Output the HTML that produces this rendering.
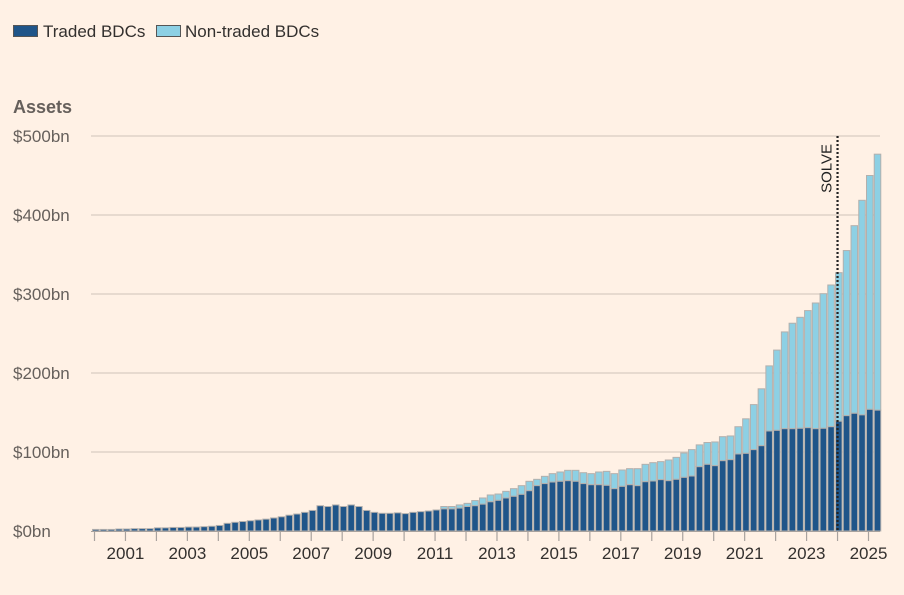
<!DOCTYPE html>
<html><head><meta charset="utf-8"><style>
html,body{margin:0;padding:0;background:#fff1e5;}
body{width:904px;height:590px;overflow:hidden;font-family:"Liberation Sans",sans-serif;}
svg text{font-family:"Liberation Sans",sans-serif;}
</style></head><body>
<svg id="chart" width="904" height="590" xmlns="http://www.w3.org/2000/svg">
<g>
<rect x="13.5" y="25.5" width="24" height="11" fill="#1f5589" stroke="#555" stroke-width="1"/>
<text x="43" y="37" font-size="17" fill="#33302e">Traded BDCs</text>
<rect x="156.5" y="25.5" width="24" height="11" fill="#8dd0e4" stroke="#555" stroke-width="1"/>
<text x="185" y="37" font-size="17" fill="#33302e">Non-traded BDCs</text>
</g>
<text x="13" y="113" font-size="18" font-weight="bold" fill="#66605c">Assets</text>
<g id="grid"></g><g id="bars"></g><g id="xaxis"></g>
</svg>
<script>
const traded = [2,2,2,2.5,2.5,3,3,3,4,4,4.5,4.5,5,5,5.5,6,
7,9.7,11,12,13,14,15,16.5,18,20,21.5,23.6,26,32,31,33,31,33,31,26,23.6,22.4,22.4,23,22,23.6,24.5,25.3,26.6,28,28,29,31,32,
34,37,38.8,41.8,43.9,46.4,51,57.4,60,62,62.9,63.7,62.9,60,58.6,58.6,57.8,53.6,56.5,58.6,57.4,62.4,63.3,65,63.7,65.4,67.9,69.6,81.4,84.4,82.7,89,90.3,97.5,98.3,103,108,126.6,127.4,129.5,129.5,130,130.8,129.5,130,132,139,146,149,147,154,153];
const totals = [2,2,2,2.5,2.5,3,3,3,4,4,4.5,4.5,5,5,5.5,6,
7,9.7,11,12,13,14,15,16.5,18,20,21.5,23.6,26,32,31,33,31,33,31,26,23.6,22.4,22.4,23,22,23.6,24.5,25.3,26.6,31,31,33,35,38.5,
41.8,45.6,46.8,50.2,53.6,57.4,62.9,65.4,69.2,72.6,74.7,76.8,76.8,73.8,72.6,74.7,75.5,72.6,77.2,78.9,78.9,84.4,86.5,87.8,89.9,93.2,98.7,103,109,112,112.7,119.4,120.3,132,142,160,180,209,229,252,263,270.5,279,288.6,300.4,311.4,327,355,386.5,418.6,450,477];
const yTicks = [0,100,200,300,400,500];
const yLabels = ["$0bn","$100bn","$200bn","$300bn","$400bn","$500bn"];
const startYear = 2000;
const NS="http://www.w3.org/2000/svg";
const x0=92, step=7.74, y0=531, yTop=136, maxV=500;
function y(v){return y0-(v/maxV)*(y0-yTop);}
function x(i){return x0+i*step;}
function mk(tag,attrs,parent){const e=document.createElementNS(NS,tag);for(const k in attrs)e.setAttribute(k,attrs[k]);parent.appendChild(e);return e;}
const grid=document.getElementById('grid'), bars=document.getElementById('bars'), xa=document.getElementById('xaxis');
yTicks.forEach((t,i)=>{
  if(t>0){const l=mk('line',{x1:91,x2:880,y1:y(t),y2:y(t),stroke:'#cfc3b9','stroke-width':1},grid);
  
  }
  const tx=mk('text',{x:13,y:y(t)+6,'font-size':17,fill:'#66605c'},grid);
  tx.textContent=yLabels[i];
  
  
});
traded.forEach((v,i)=>{
  const w=step-1.2;
  const tot=totals[i];
  if(tot>v){const r=mk('rect',{x:x(i)+0.5,y:y(tot),width:w,height:y(v)-y(tot),fill:'#8dd0e4',stroke:'#b3b0ad','stroke-width':1},bars);
  
  }
  const r2=mk('rect',{x:x(i)+0.5,y:y(v),width:w,height:y0-y(v),fill:'#1f5589',stroke:'#b3b0ad','stroke-width':1},bars);
  
  
});
const base=mk('line',{x1:91,x2:880,y1:y0+0.5,y2:y0+0.5,stroke:'#a8a29e','stroke-width':1},xa);


for(let yr=2000;yr<=2025;yr++){
  const tx0=x((yr-startYear)*4)+2.5;
  const tk=mk('line',{x1:tx0,x2:tx0,y1:y0,y2:y0+10,stroke:'#a8a29e','stroke-width':1.2},xa);
  
  
  if(yr%2===1){const t=mk('text',{x:tx0,y:559,'font-size':17,fill:'#33302e','text-anchor':'middle'},xa);
  t.textContent=String(yr);
  
  }
}
const sx=x((2024-startYear)*4)+2.5;
const sl=mk('line',{x1:sx,x2:sx,y1:136,y2:y0,stroke:'#222','stroke-width':2.2,'stroke-dasharray':'2,2'},xa);


const st=mk('text',{x:0,y:0,'font-size':15,fill:'#222','text-anchor':'end',transform:'translate('+(sx-6)+',144) rotate(-90)'},xa);
st.textContent='SOLVE';


</script>
</body></html>
